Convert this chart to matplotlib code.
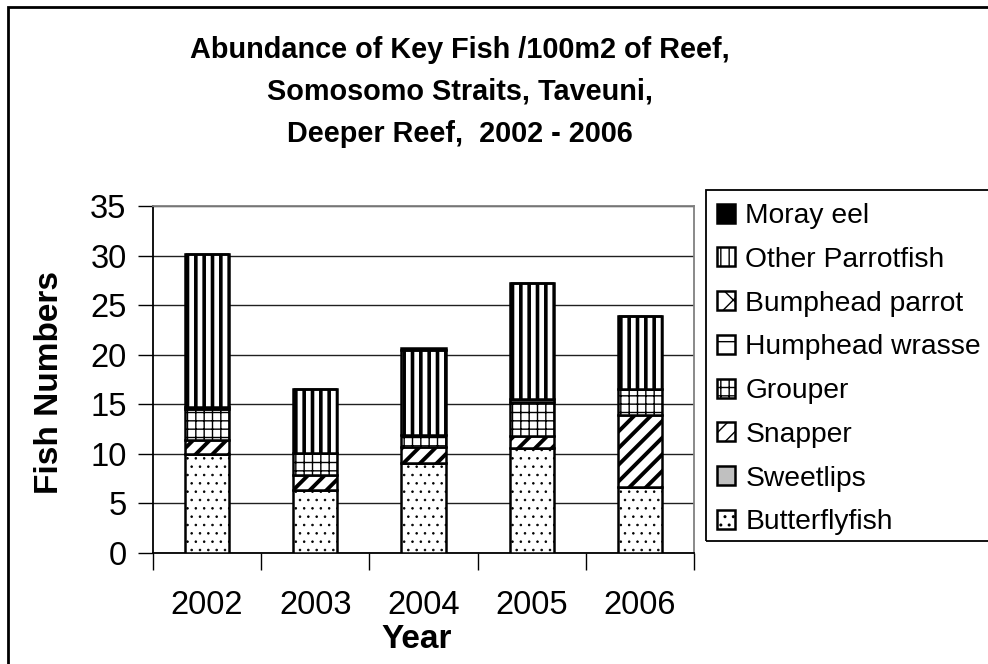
import matplotlib
matplotlib.use("Agg")
import matplotlib.pyplot as plt
from matplotlib.patches import Rectangle
import numpy as np

plt.rcParams['font.family'] = ['Liberation Sans', 'DejaVu Sans']

years = ['2002', '2003', '2004', '2005', '2006']
species = ['Butterflyfish', 'Sweetlips', 'Snapper', 'Grouper',
           'Humphead wrasse', 'Bumphead parrot', 'Other Parrotfish', 'Moray eel']
butterflyfish = [10.0, 6.4, 9.1, 10.6, 6.7]
sweetlips = [0.0, 0.0, 0.0, 0.0, 0.0]
snapper = [1.35, 1.45, 1.6, 1.2, 7.2]
grouper = [3.15, 2.25, 1.25, 3.4, 2.6]
humphead_wrasse = [0.25, 0.0, 0.0, 0.3, 0.0]
bumphead_parrot = [0.0, 0.0, 0.0, 0.0, 0.0]
other_parrotfish = [15.4, 6.45, 8.5, 11.7, 7.4]
moray_eel = [0.0, 0.0, 0.2, 0.0, 0.0]
series = [butterflyfish, sweetlips, snapper, grouper,
          humphead_wrasse, bumphead_parrot, other_parrotfish, moray_eel]

styles = [
    dict(facecolor='white', hatch='..', hlw=0.6),
    dict(facecolor='#C0C0C0', hatch=None, hlw=1.0),
    dict(facecolor='white', hatch='//', hlw=2.8),
    dict(facecolor='white', hatch='++', hlw=1.0),
    dict(facecolor='white', hatch='-', hlw=1.0),
    dict(facecolor='white', hatch='x', hlw=1.0),
    dict(facecolor='white', hatch='||', hlw=2.6),
    dict(facecolor='black', hatch=None, hlw=1.0),
]

fig = plt.figure(figsize=(9.88, 6.64), dpi=100)
ax = fig.add_axes([153/988, 1-553/664, (694-153)/988, (553-206)/664])

x = np.arange(len(years))
bottom = np.zeros(len(years))
handles = []
for name, vals, st in zip(species, series, styles):
    with plt.rc_context({'hatch.linewidth': st['hlw'], 'hatch.color': 'black'}):
        bars = ax.bar(x, vals, width=0.41, bottom=bottom, color=st['facecolor'],
                      edgecolor='black', linewidth=1.8, hatch=st['hatch'],
                      label=name, zorder=3)
        for b in bars:
            if hasattr(b, 'set_hatch_linewidth'):
                b.set_hatch_linewidth(st['hlw'])
    handles.append(bars)
    bottom += np.array(vals)

ax.set_xlim(-0.5, 4.5)
ax.set_ylim(0, 35)
ax.set_yticks(np.arange(0, 36, 5))
ax.yaxis.grid(True, color='#202020', linewidth=1.0, zorder=0)
ax.set_axisbelow(True)

ax.set_xticks(np.arange(-0.5, 5, 1.0))
ax.set_xticklabels([])
ax.set_xticks(x, minor=True)
ax.set_xticklabels(years, minor=True)
ax.tick_params(axis='x', which='major', direction='out', length=12, width=1.0)
ax.tick_params(axis='x', which='minor', length=0, pad=27, labelsize=23.5)
ax.tick_params(axis='y', direction='out', length=11, width=1.0, pad=8, labelsize=23.5)

for s in ['top', 'right']:
    ax.spines[s].set_color('#808080')
    ax.spines[s].set_linewidth(1.3)
for s in ['left', 'bottom']:
    ax.spines[s].set_color('black')
    ax.spines[s].set_linewidth(1.3)

ax.set_xlabel('Year', fontsize=24, fontweight='bold')
ax.xaxis.label.set_va('center')
ax.xaxis.set_label_coords(0.487, (553-640)/347)
ax.set_ylabel('Fish Numbers', fontsize=24, fontweight='bold')
ax.yaxis.label.set_va('center')
ax.yaxis.set_label_coords((50-153)/541, (553-382)/347)

title = ('Abundance of Key Fish /100m2 of Reef,\n'
         'Somosomo Straits, Taveuni,\n'
         'Deeper Reef,  2002 - 2006')
fig.text(460/988, 1-92/664, title, ha='center', va='center', fontsize=20.8,
         fontweight='bold', linespacing=1.64)

leg = ax.legend(handles[::-1], species[::-1], loc='upper left',
                bbox_to_anchor=(717/988, 1-203/664), bbox_transform=fig.transFigure,
                frameon=False, fontsize=20.3, handlelength=0.65, handleheight=0.65,
                handletextpad=0.35, labelspacing=0.63, borderaxespad=0, borderpad=0)
fig.add_artist(Rectangle((706/988, 1-541/664), 300/988, (541-190)/664,
                         transform=fig.transFigure, fill=False,
                         edgecolor='black', linewidth=1.3))
fig.add_artist(Rectangle((8/988, -0.1), 1.1, 1-7/664+0.1,
                         transform=fig.transFigure, fill=False,
                         edgecolor='black', linewidth=2.0))

fig.savefig('out.png', dpi=100)
